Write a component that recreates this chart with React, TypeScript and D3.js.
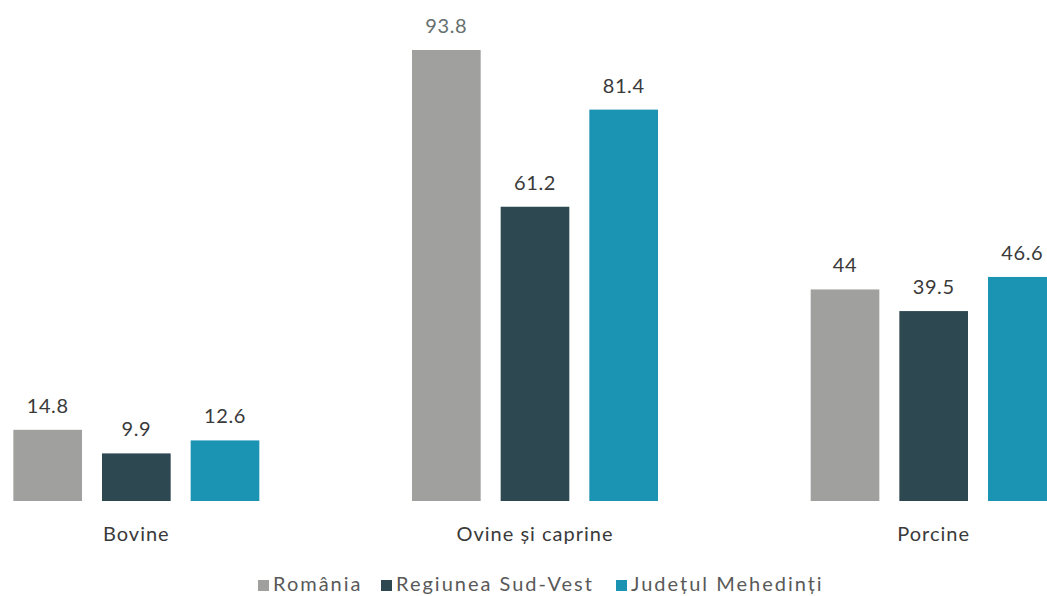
import React from "react";
import * as d3 from "d3";

const categories = ["Bovine", "Ovine și caprine", "Porcine"];
const seriesNames = ["România", "Regiunea Sud-Vest", "Județul Mehedinți"];
const romania = [14.8, 93.8, 44];
const sudVest = [9.9, 61.2, 39.5];
const mehedinti = [12.6, 81.4, 46.6];
const colors = ["#a0a19e", "#2d4850", "#1b93b3"];

const W = 1047;
const H = 596;
const FONT = "Lato, 'Noto Sans', sans-serif";

export default function App() {
  const series = [romania, sudVest, mehedinti];
  const x0 = d3
    .scaleBand<string>()
    .domain(categories)
    .range([-63, 1133])
    .paddingInner(0.383)
    .paddingOuter(0.1915);
  const x1 = d3
    .scaleBand<string>()
    .domain(seriesNames)
    .range([0, x0.bandwidth()])
    .paddingInner(0.2255)
    .paddingOuter(0);
  const y = d3.scaleLinear().domain([0, 93.8]).range([501, 50]);

  const legendItems = [
    { x: 258, tx: 273 },
    { x: 381, tx: 396 },
    { x: 616, tx: 631 },
  ];

  return (
    <svg
      width={W}
      height={H}
      style={{ position: "absolute", left: 0, top: 0, background: "#fff" }}
      fontFamily={FONT}
    >
      {categories.map((c, ci) => (
        <g key={c} transform={`translate(${x0(c)},0)`}>
          {seriesNames.map((s, si) => {
            const v = series[si][ci];
            const bx = x1(s)!;
            return (
              <g key={s}>
                <rect
                  x={bx}
                  y={y(v)}
                  width={x1.bandwidth()}
                  height={y(0) - y(v)}
                  fill={colors[si]}
                />
                <text
                  x={bx + x1.bandwidth() / 2}
                  y={y(v) - 17}
                  textAnchor="middle"
                  fontSize={20}
                  letterSpacing={0.6}
                  fill={v === 93.8 ? "#667070" : "#3a3a3a"}
                >
                  {String(v)}
                </text>
              </g>
            );
          })}
          <text
            x={x0.bandwidth() / 2}
            y={541}
            textAnchor="middle"
            fontSize={20}
            letterSpacing={1}
            fill="#3a3a3a"
          >
            {c}
          </text>
        </g>
      ))}
      {seriesNames.map((s, i) => (
        <g key={s}>
          <rect x={legendItems[i].x} y={580} width={11} height={11} fill={colors[i]} />
          <text
            x={legendItems[i].tx}
            y={591}
            fontSize={20}
            letterSpacing={2}
            fill="#595959"
          >
            {s}
          </text>
        </g>
      ))}
    </svg>
  );
}
